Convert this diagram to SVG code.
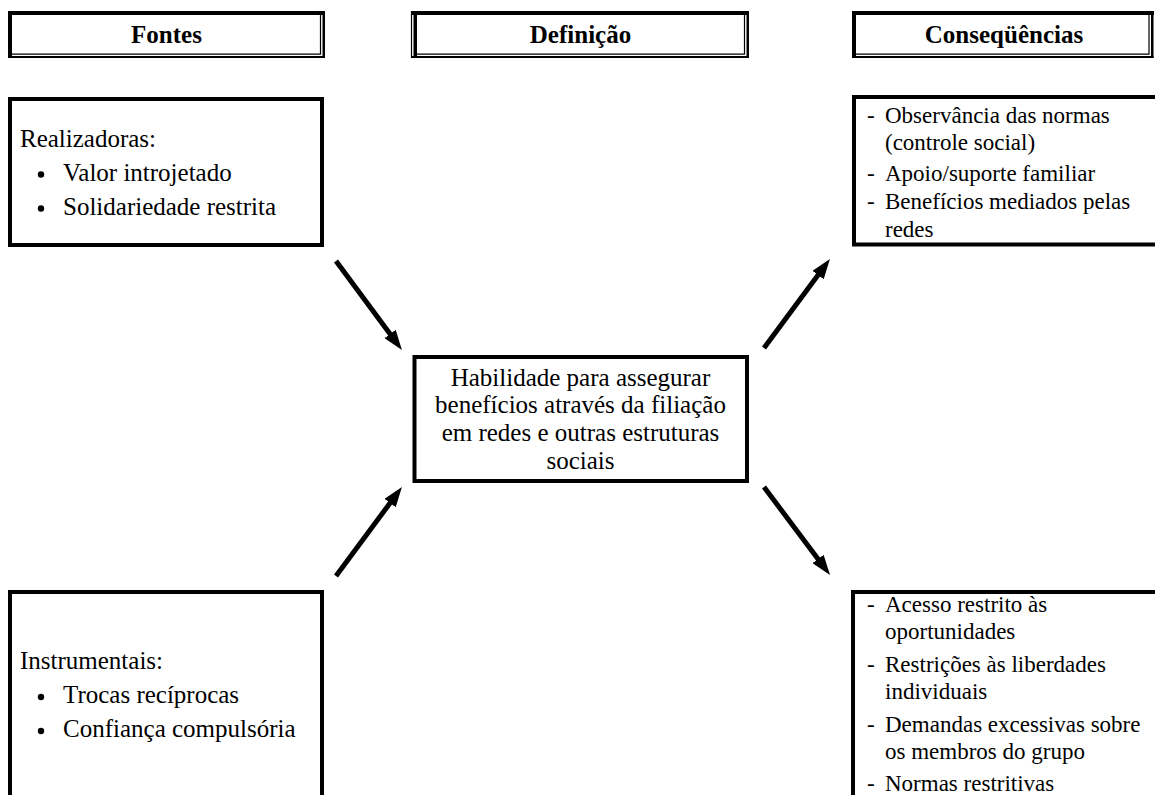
<svg xmlns="http://www.w3.org/2000/svg" width="1155" height="795" viewBox="0 0 1155 795">
  <style>
    .ink { fill: #000; }
    .thin { stroke: #000; stroke-width: 1.2; fill: none; }
    .box { fill: #fff; stroke: #000; stroke-width: 4; }
    .txt { font-family: "Liberation Serif", "Times New Roman", serif; font-size: 25px; fill: #000; }
    .sm { font-size: 23px; }
    .hdr { font-weight: bold; text-anchor: middle; }
    .mid { text-anchor: middle; }
    .arrow { stroke: #000; stroke-width: 5; fill: none; marker-end: url(#head); }
  </style>
  <defs>
    <marker id="head" markerUnits="userSpaceOnUse" markerWidth="20" markerHeight="14" refX="10" refY="7" orient="auto">
      <path d="M0,0 L20,7 L0,14 Z" fill="#000"/>
    </marker>
  </defs>
  <rect width="1155" height="795" fill="#fff"/>

  <!-- column headers: thick top/left edge, doubled right/bottom edge -->
  <g id="hdr-fontes">
    <rect class="ink" x="8" y="11" width="317" height="4"/>
    <rect class="ink" x="8" y="11" width="4" height="47"/>
    <rect class="ink" x="322.5" y="11" width="2.5" height="47"/>
    <rect class="ink" x="8" y="56" width="317" height="2"/>
    <path class="thin" d="M320.5,15 V54.2 H12"/>
    <text class="txt hdr" x="166.5" y="43">Fontes</text>
  </g>
  <g id="hdr-definicao">
    <path class="thin" d="M411.5,11 V58"/>
    <rect class="ink" x="411" y="11" width="338" height="4"/>
    <rect class="ink" x="413.5" y="11" width="3.5" height="47"/>
    <rect class="ink" x="746.5" y="11" width="2.5" height="47"/>
    <rect class="ink" x="411" y="56" width="338" height="2"/>
    <path class="thin" d="M744.5,15 V54.2 H417"/>
    <text class="txt hdr" x="580.5" y="43">Definição</text>
  </g>
  <g id="hdr-consequencias">
    <rect class="ink" x="852" y="11" width="302" height="4"/>
    <rect class="ink" x="852" y="11" width="4" height="47"/>
    <rect class="ink" x="1151" y="11" width="2.5" height="47"/>
    <rect class="ink" x="852" y="56" width="301.5" height="2"/>
    <path class="thin" d="M1149,15 V54.2 H856"/>
    <text class="txt hdr" x="1004" y="43">Conseqüências</text>
  </g>

  <!-- sources -->
  <g id="fontes-realizadoras">
    <rect class="box" x="10" y="99" width="312" height="146"/>
    <text class="txt" x="20" y="146.5">Realizadoras:</text>
    <circle class="ink" cx="41" cy="174.5" r="3.2"/>
    <text class="txt" x="63" y="180.5">Valor introjetado</text>
    <circle class="ink" cx="41" cy="208.5" r="3.2"/>
    <text class="txt" x="63" y="214.5">Solidariedade restrita</text>
  </g>
  <g id="fontes-instrumentais">
    <rect class="box" x="10" y="592" width="312" height="230"/>
    <text class="txt" x="20" y="669">Instrumentais:</text>
    <circle class="ink" cx="41" cy="697" r="3.2"/>
    <text class="txt" x="63" y="703">Trocas recíprocas</text>
    <circle class="ink" cx="41" cy="731" r="3.2"/>
    <text class="txt" x="63" y="737">Confiança compulsória</text>
  </g>

  <!-- definition -->
  <g id="definicao">
    <rect class="box" x="414.5" y="357" width="332.5" height="124"/>
    <text class="txt mid" x="580.5" y="385.5">Habilidade para assegurar</text>
    <text class="txt mid" x="580.5" y="413">benefícios através da filiação</text>
    <text class="txt mid" x="580.5" y="441">em redes e outras estruturas</text>
    <text class="txt mid" x="580.5" y="468.5">sociais</text>
  </g>

  <!-- consequences -->
  <g id="consequencias-positivas">
    <rect class="box" x="854" y="97" width="330" height="147.5"/>
    <text class="txt sm" x="867" y="122.5">-</text>
    <text class="txt sm" x="885" y="122.5">Observância das normas</text>
    <text class="txt sm" x="885" y="150">(controle social)</text>
    <text class="txt sm" x="867" y="181">-</text>
    <text class="txt sm" x="885" y="181">Apoio/suporte familiar</text>
    <text class="txt sm" x="867" y="209">-</text>
    <text class="txt sm" x="885" y="209">Benefícios mediados pelas</text>
    <text class="txt sm" x="885" y="236.5">redes</text>
  </g>
  <g id="consequencias-negativas">
    <rect class="box" x="853" y="592" width="330" height="230"/>
    <text class="txt sm" x="867" y="611.5">-</text>
    <text class="txt sm" x="885" y="611.5">Acesso restrito às</text>
    <text class="txt sm" x="885" y="639">oportunidades</text>
    <text class="txt sm" x="867" y="671.5">-</text>
    <text class="txt sm" x="885" y="671.5">Restrições às liberdades</text>
    <text class="txt sm" x="885" y="699">individuais</text>
    <text class="txt sm" x="867" y="731.5">-</text>
    <text class="txt sm" x="885" y="731.5">Demandas excessivas sobre</text>
    <text class="txt sm" x="885" y="759">os membros do grupo</text>
    <text class="txt sm" x="867" y="791">-</text>
    <text class="txt sm" x="885" y="791">Normas restritivas</text>
  </g>

  <!-- connectors -->
  <g id="connectors">
    <line class="arrow" x1="336" y1="261" x2="396" y2="342"/>
    <line class="arrow" x1="336" y1="576" x2="396" y2="495"/>
    <line class="arrow" x1="764" y1="348" x2="824" y2="267"/>
    <line class="arrow" x1="764" y1="487" x2="824" y2="567"/>
  </g>
</svg>
